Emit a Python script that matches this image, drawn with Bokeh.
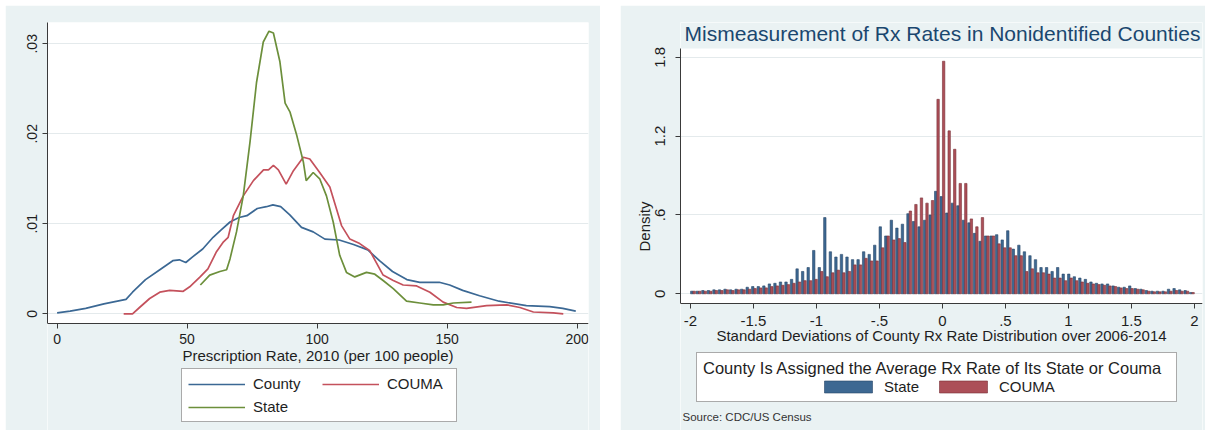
import numpy as np
from bokeh.plotting import figure
from bokeh.models import (ColumnDataSource, FixedTicker, Legend, LegendItem,
                          Label, Range1d, BoxAnnotation)
from bokeh.layouts import row
from bokeh.embed import file_html
from bokeh.resources import INLINE

FONT = "Liberation Sans"
BG = "#eaf2f3"
AXIS = "#3a3a3a"
TXT = "#1e1e1e"
GRID = "#e4eaec"

# ---------------- left panel data (kernel densities) ----------------
county_x = [0, 5, 11, 18, 26.5, 29, 34, 39.5, 44.5, 47, 49.5, 52, 56, 60, 63,
            66.5, 70, 73, 77, 80.5, 83, 86, 89.5, 94, 98.5, 103, 108.5, 114,
            119.5, 124, 129, 134.5, 139.5, 147, 151, 156, 162.5, 170, 180.5,
            189.5, 194.5, 199.5]
county_y = [0.0001, 0.0003, 0.0006, 0.0011, 0.0016, 0.0024, 0.0038, 0.0049,
            0.0059, 0.0060, 0.0057, 0.0063, 0.0072, 0.0085, 0.0093, 0.0102,
            0.0107, 0.0109, 0.0117, 0.0119, 0.0121, 0.0119, 0.0110, 0.0096,
            0.0091, 0.0083, 0.0082, 0.0077, 0.0071, 0.0059, 0.0047, 0.0038,
            0.0035, 0.0035, 0.0032, 0.0026, 0.0020, 0.0014, 0.0009, 0.0008,
            0.0006, 0.0003]

couma_x = [25.6, 29, 31.7, 35.6, 39.5, 43.3, 48.5, 51, 55, 58, 61.3, 64, 65.8,
           67.8, 71.6, 75.5, 79.4, 81.3, 83.2, 85.1, 88.1, 90.9, 94.7, 97.2,
           101, 104.9, 109.4, 112.6, 116.4, 120.3, 125.4, 129.3, 133.1, 138.3,
           143.4, 148.5, 153.7, 157.5, 165.2, 172.9, 178, 183.2, 190.9, 194.7]
couma_y = [0.0000, 0.0000, 0.0007, 0.0017, 0.0024, 0.0026, 0.0025, 0.0030,
           0.0041, 0.0050, 0.0069, 0.0080, 0.0085, 0.0109, 0.0131, 0.0148,
           0.0160, 0.0160, 0.0165, 0.0160, 0.0144, 0.0159, 0.0174, 0.0172,
           0.0157, 0.0141, 0.0098, 0.0083, 0.0078, 0.0070, 0.0043, 0.0037,
           0.0032, 0.0031, 0.0024, 0.0013, 0.0007, 0.0006, 0.0009, 0.0010,
           0.0007, 0.0002, 0.0001, 0.0000]

state_x = [55.1, 58.7, 62.6, 65.2, 66.5, 69, 71.6, 74.2, 76.7, 79.3, 81.5, 83.2,
           85.7, 87.7, 89.6, 92.2, 94.7, 95.8, 98.5, 101, 103.6, 106.2, 108.7,
           111.3, 114.5, 119, 122.2, 125.4, 129.3, 134.4, 139.5, 144.7, 148.5,
           152.4, 159.4]
state_y = [0.0032, 0.0043, 0.0047, 0.0049, 0.0061, 0.0091, 0.0131, 0.0191,
           0.0257, 0.0302, 0.0314, 0.0312, 0.0280, 0.0234, 0.0224, 0.0198,
           0.0169, 0.0148, 0.0157, 0.0150, 0.0131, 0.0102, 0.0065, 0.0046,
           0.0041, 0.0046, 0.0044, 0.0037, 0.0028, 0.0014, 0.0012, 0.0010,
           0.0010, 0.0012, 0.0013]

left_xticks = [0, 50, 100, 150, 200]
left_xtick_labels = ["0", "50", "100", "150", "200"]
left_yticks = [0, 0.01, 0.02, 0.03]
left_ytick_labels = ["0", ".01", ".02", ".03"]

# ---------------- right panel data (histograms) ----------------
bin_width = 0.044
bin_index = list(range(-45, 46))
state_density = [
    0.02, 0.02, 0.025, 0.025, 0.03, 0.03, 0.035, 0.03, 0.035, 0.035,
    0.05, 0.055, 0.055, 0.06, 0.075, 0.08, 0.09, 0.09, 0.11, 0.19,
    0.17, 0.20, 0.33, 0.20, 0.58, 0.32, 0.28, 0.30, 0.28, 0.26,
    0.26, 0.32, 0.30, 0.37, 0.51, 0.44, 0.56, 0.50, 0.53, 0.61,
    0.55, 0.51, 0.56, 0.60, 0.78, 0.74, 0.615, 0.69, 0.67, 0.56,
    0.54, 0.46, 0.40, 0.44, 0.44, 0.45, 0.41, 0.48, 0.34, 0.37,
    0.32, 0.29, 0.26, 0.20, 0.20, 0.17, 0.20, 0.15, 0.15, 0.13,
    0.12, 0.11, 0.09, 0.08, 0.075, 0.075, 0.06, 0.05, 0.05, 0.06,
    0.04, 0.035, 0.025, 0.02, 0.02, 0.02, 0.035, 0.04, 0.03, 0.025,
    0.01]
couma_density = [
    0.02, 0.02, 0.02, 0.02, 0.025, 0.025, 0.03, 0.025, 0.03, 0.03,
    0.035, 0.04, 0.045, 0.045, 0.055, 0.06, 0.065, 0.07, 0.08, 0.09,
    0.10, 0.10, 0.11, 0.17, 0.13, 0.16, 0.18, 0.16, 0.17, 0.22,
    0.22, 0.27, 0.25, 0.25, 0.35, 0.44, 0.41, 0.42, 0.39, 0.63,
    0.68, 0.73, 0.69, 0.71, 1.48, 1.77, 1.24, 1.10, 0.84, 0.84,
    0.57, 0.51, 0.58, 0.44, 0.44, 0.38, 0.35, 0.35, 0.29, 0.29,
    0.17, 0.19, 0.16, 0.16, 0.15, 0.12, 0.12, 0.10, 0.12, 0.10,
    0.09, 0.08, 0.075, 0.07, 0.065, 0.06, 0.055, 0.045, 0.04, 0.04,
    0.035, 0.03, 0.02, 0.015, 0.015, 0.015, 0.02, 0.025, 0.02, 0.02,
    0.01]

right_xticks = [-2, -1.5, -1, -0.5, 0, 0.5, 1, 1.5, 2]
right_xtick_labels = ["-2", "-1.5", "-1", "-.5", "0", ".5", "1", "1.5", "2"]
right_yticks = [0, 0.6, 1.2, 1.8]
right_ytick_labels = ["0", ".6", "1.2", "1.8"]

# frames run from y=22 to y=430 px; the plot regions are smaller
FRAME_H = 408
L_PX = 9000.0            # px per density unit, left
L_ZERO = 313.3 - 22      # px from frame top to y=0, left
L_TOP = L_ZERO / L_PX
L_BOT = -(FRAME_H - L_ZERO) / L_PX
L_AXIS = -(323 - 313.3) / L_PX

R_PX = 131.4
R_ZERO = 293.3 - 22
R_TOP = R_ZERO / R_PX
R_BOT = -(FRAME_H - R_ZERO) / R_PX
R_AXIS = -(303 - 293.3) / R_PX
R_PLOT_TOP = (293.3 - 48) / R_PX


def style_axes(p, xt, xl, yt, yl, tick_fs):
    p.xaxis.ticker = FixedTicker(ticks=xt)
    p.xaxis.major_label_overrides = {t: l for t, l in zip(xt, xl)}
    p.yaxis.ticker = FixedTicker(ticks=yt)
    p.yaxis.major_label_overrides = {t: l for t, l in zip(yt, yl)}
    p.yaxis.major_label_orientation = "vertical"
    for ax in (p.xaxis[0], p.yaxis[0]):
        ax.axis_line_color = AXIS
        ax.axis_line_width = 1
        ax.major_tick_line_color = AXIS
        ax.major_tick_out = 5
        ax.major_tick_in = 0
        ax.minor_tick_line_color = None
        ax.major_label_text_font = FONT
        ax.major_label_text_font_size = tick_fs
        ax.major_label_text_color = TXT
        ax.axis_label_text_font = FONT
        ax.axis_label_text_font_style = "normal"
        ax.axis_label_text_color = TXT
        ax.axis_label_text_font_size = "15px"
    p.xgrid.grid_line_color = None
    p.ygrid.ticker = FixedTicker(ticks=yt)
    p.ygrid.grid_line_color = GRID
    p.ygrid.grid_line_width = 1


# ---------------- left figure ----------------
p1 = figure(frame_width=541, frame_height=FRAME_H,
            min_border_left=42, min_border_right=12,
            min_border_top=17, min_border_bottom=0,
            margin=(5, 0, 0, 5),
            x_range=Range1d(-3.7, 204.4), y_range=Range1d(L_BOT, L_TOP),
            output_backend="svg", toolbar_location=None,
            background_fill_color="white", border_fill_color=BG,
            outline_line_color=None)
style_axes(p1, left_xticks, left_xtick_labels, left_yticks, left_ytick_labels, "14px")
p1.xaxis.fixed_location = L_AXIS
p1.yaxis.bounds = (L_AXIS, L_TOP)
p1.xaxis.axis_label = "Prescription Rate, 2010 (per 100 people)"
p1.xaxis.major_label_standoff = 5
p1.xaxis.axis_label_standoff = 0
p1.yaxis.major_label_standoff = 5
p1.add_layout(BoxAnnotation(top=L_AXIS, fill_color=BG, fill_alpha=1,
                            line_alpha=0, level="underlay"))

r_county = p1.line(county_x, county_y, line_color="#3b6894", line_width=1.7)
r_couma = p1.line(couma_x, couma_y, line_color="#c4515c", line_width=1.7)
r_state = p1.line(state_x, state_y, line_color="#6c8f3b", line_width=1.7)

leg1 = Legend(items=[LegendItem(label="County", renderers=[r_county]),
                     LegendItem(label="COUMA", renderers=[r_couma]),
                     LegendItem(label="State", renderers=[r_state])],
              orientation="horizontal", ncols=2,
              location=(134, 8), margin=0, padding=6, spacing=6,
              glyph_width=57, glyph_height=16, label_height=16,
              label_width=63, label_standoff=8,
              label_text_font=FONT, label_text_font_size="15px",
              label_text_color=TXT,
              border_line_color="#555555", border_line_width=1,
              background_fill_color="white", background_fill_alpha=1)
p1.add_layout(leg1)

# ---------------- right figure ----------------
p2 = figure(frame_width=522, frame_height=FRAME_H,
            min_border_left=60, min_border_right=3,
            min_border_top=17, min_border_bottom=0,
            margin=(5, 0, 0, 0),
            x_range=Range1d(-2.079, 2.064), y_range=Range1d(R_BOT, R_TOP),
            output_backend="svg", toolbar_location=None,
            background_fill_color="white", border_fill_color=BG,
            outline_line_color=None)
style_axes(p2, right_xticks, right_xtick_labels, right_yticks, right_ytick_labels, "15px")
p2.xaxis.fixed_location = R_AXIS
p2.yaxis.bounds = (R_AXIS, R_PLOT_TOP)
p2.xaxis.axis_label = "Standard Deviations of County Rx Rate Distribution over 2006-2014"
p2.yaxis.axis_label = "Density"
p2.xaxis.major_label_standoff = 7
p2.xaxis.axis_label_standoff = -2
p2.yaxis.major_label_standoff = 10
p2.yaxis.axis_label_standoff = 0
p2.add_layout(BoxAnnotation(top=R_AXIS, fill_color=BG, fill_alpha=1,
                            line_alpha=0, level="underlay"))
p2.add_layout(BoxAnnotation(bottom=R_PLOT_TOP, fill_color=BG, fill_alpha=1,
                            line_alpha=0, level="underlay"))

centers = np.array(bin_index) * bin_width
src = ColumnDataSource(dict(xb=centers - 0.0095, xr=centers + 0.0095,
                            state=state_density, couma=couma_density))
r_sb = p2.vbar(x="xb", top="state", bottom=0, width=0.019, source=src,
               fill_color="#3d6892", line_color="#284768", line_width=0.6)
r_cb = p2.vbar(x="xr", top="couma", bottom=0, width=0.019, source=src,
               fill_color="#ac4f58", line_color="#793037", line_width=0.6)

p2.add_layout(Label(x=262, y=FRAME_H - 11, x_units="screen", y_units="screen",
                    text="Mismeasurement of Rx Rates in Nonidentified Counties",
                    text_font=FONT, text_font_size="21px",
                    text_color="#1a476f", text_align="center",
                    text_baseline="middle"))

# legend: blank entries either side keep the two keys centred under the title
r_blank = p2.vbar(x=[], top=[], width=0.01, fill_alpha=0, line_alpha=0)
leg2 = Legend(items=[LegendItem(label=" ", renderers=[r_blank]),
                     LegendItem(label="State", renderers=[r_sb]),
                     LegendItem(label="COUMA", renderers=[r_cb]),
                     LegendItem(label="  ", renderers=[r_blank])],
              title="County Is Assigned the Average Rx Rate of Its State or Couma",
              title_text_font=FONT, title_text_font_size="16.5px",
              title_text_font_style="normal", title_text_color=TXT,
              title_standoff=0,
              orientation="horizontal",
              location=(16, 28), margin=0, padding=6, spacing=7,
              glyph_width=60, glyph_height=15, label_height=15,
              label_width=42, label_standoff=6,
              label_text_font=FONT, label_text_font_size="15px",
              label_text_color=TXT,
              border_line_color="#555555", border_line_width=1,
              background_fill_color="white", background_fill_alpha=1)
p2.add_layout(leg2)

p2.add_layout(Label(x=2, y=14, x_units="screen", y_units="screen",
                    text="Source: CDC/US Census", text_font=FONT,
                    text_font_size="11.5px", text_color="#333333",
                    text_baseline="middle"))

layout = row(p1, p2, spacing=20)
open("out.html", "w").write(file_html(layout, INLINE))
